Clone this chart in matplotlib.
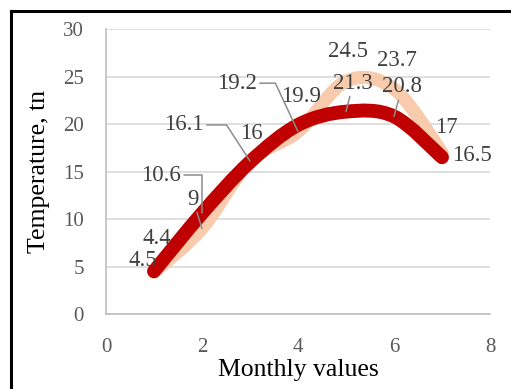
import numpy as np
import matplotlib
matplotlib.use("Agg")
import matplotlib.pyplot as plt
from matplotlib.path import Path
from matplotlib.patches import PathPatch
from matplotlib.lines import Line2D

plt.rcParams['font.family'] = ['Liberation Serif', 'DejaVu Serif']

# data
months = [1, 2, 3, 4, 5, 6, 7]
temp_light = [4.4, 9, 16.1, 19.2, 24.5, 23.7, 17]
temp_dark = [4.5, 10.6, 16, 19.9, 21.3, 20.8, 16.5]

# label placement (data coords) and leader style per point
light_lbl_pos = [(1.06, 7.9), (1.81, 12.1), (1.63, 19.9), (2.73, 24.3),
                 (5.04, 27.6), (6.06, 26.7), (7.10, 19.6)]
dark_lbl_pos = [(0.77, 5.6), (1.15, 14.6), (3.02, 19.0), (4.06, 22.9),
                (5.15, 24.3), (6.17, 23.9), (7.63, 16.7)]
light_leader = [None, 'straight', 123, 115, None, None, None]
dark_leader = [None, 90, None, None, 'straight', 'straight', None]


def smooth_path(xs, ys):
    # Excel-style smoothed line as cubic bezier segments
    pts = np.column_stack([xs, ys]).astype(float)
    n = len(pts)
    verts = [pts[0]]
    codes = [Path.MOVETO]
    for i in range(n - 1):
        p0 = pts[i - 1] if i > 0 else pts[i]
        p1 = pts[i]
        p2 = pts[i + 1]
        p3 = pts[i + 2] if i + 2 < n else pts[i + 1]
        c1 = p1 + (p2 - p0) / 6
        c2 = p2 - (p3 - p1) / 6
        verts += [c1, c2, p2]
        codes += [Path.CURVE4] * 3
    return Path(verts, codes)


fig = plt.figure(figsize=(5.11, 3.89), dpi=100)
ax = fig.add_axes([0.2074, 0.1928, 0.7515, 0.7326])

ax.add_patch(PathPatch(smooth_path(months, temp_light), fill=False,
                       edgecolor='#F8CBAD', lw=9.5, capstyle='round',
                       joinstyle='round', zorder=2))
ax.add_patch(PathPatch(smooth_path(months, temp_dark), fill=False,
                       edgecolor='#C00000', lw=10, capstyle='round',
                       joinstyle='round', zorder=3))


def add_labels(xs, ys, positions, leaders, z):
    for x, y, pos, ld in zip(xs, ys, positions, leaders):
        txt = f"{y:g}"
        kw = dict(fontsize=16.5, color='#404040', ha='center', va='center',
                  zorder=z)
        if ld is None:
            ax.annotate(txt, xy=(x, y), xytext=pos, **kw)
        elif ld == 'straight':
            ax.annotate(txt, xy=(x, y), xytext=pos,
                        arrowprops=dict(arrowstyle='-', color='#8c8c8c',
                                        lw=1.1, shrinkA=0, shrinkB=0), **kw)
        else:
            ax.annotate(txt, xy=(x, y), xytext=pos,
                        arrowprops=dict(arrowstyle='-', color='#8c8c8c',
                                        lw=1.1, shrinkA=0, shrinkB=0,
                                        relpos=(1, 0.5),
                                        connectionstyle=f"angle,angleA=0,angleB={ld},rad=0"),
                        **kw)


add_labels(months, temp_light, light_lbl_pos, light_leader, 5)
add_labels(months, temp_dark, dark_lbl_pos, dark_leader, 5)

ax.set_xlim(0, 8)
ax.set_ylim(0, 30)
ax.set_xticks([0, 2, 4, 6, 8])
ax.set_yticks(range(0, 31, 5))
ax.grid(axis='y', color='#d9d9d9', lw=1.2)
ax.set_axisbelow(True)
for s in ['top', 'right']:
    ax.spines[s].set_visible(False)
for s in ['left', 'bottom']:
    ax.spines[s].set_color('#bfbfbf')
    ax.spines[s].set_linewidth(1.2)
ax.tick_params(length=0, labelsize=15, labelcolor='#595959')
ax.tick_params(axis='y', pad=16)
ax.tick_params(axis='x', pad=17)
ax.set_xlabel("Monthly values", fontsize=18.5, labelpad=2)
ax.set_ylabel("Temperature, tn", fontsize=18.5, labelpad=9)

# frame around the chart
fig.add_artist(Line2D([10.5 / 511, 10.5 / 511], [0, 1 - 10.5 / 389],
                      color='black', lw=2.2, transform=fig.transFigure))
fig.add_artist(Line2D([10.5 / 511, 1], [1 - 10.5 / 389, 1 - 10.5 / 389],
                      color='black', lw=2.2, transform=fig.transFigure))

fig.savefig("out.png", dpi=100)
